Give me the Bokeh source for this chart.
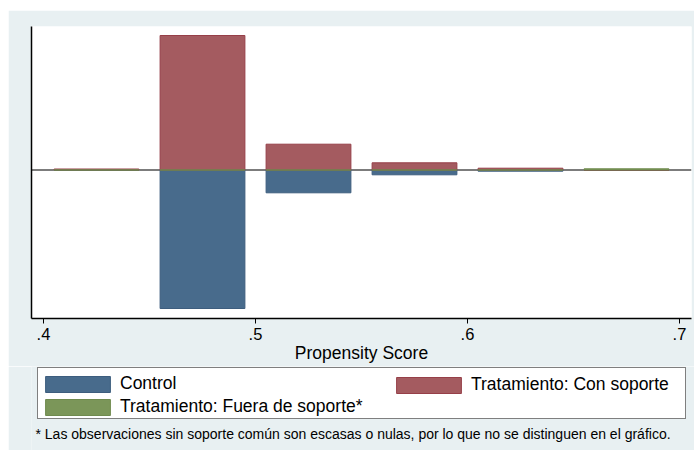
from bokeh.plotting import figure
from bokeh.layouts import column
from bokeh.models import (Range1d, FixedTicker, Span, Legend, LegendItem, Label,
                          ColumnDataSource)
from bokeh.core.properties import value
from bokeh.embed import file_html
from bokeh.resources import INLINE

# ---- data (arbitrary frequency units) ----
bin_centers = [0.425, 0.475, 0.525, 0.575, 0.625, 0.675]
tratados_soporte = [1.0, 134.5, 25.8, 7.2, 1.8, 0.0]
control = [0.0, 138.5, 22.8, 4.8, 1.2, 0.0]
tratados_fuera = [0.0, 0.0, 0.0, 0.0, 0.0, 1.2]
x_ticks = [0.4, 0.5, 0.6, 0.7]
x_tick_labels = [".4", ".5", ".6", ".7"]
series_labels = ["Control", "Tratamiento: Con soporte", "Tratamiento: Fuera de soporte*"]
footnote = "* Las observaciones sin soporte común son escasas o nulas, por lo que no se distinguen en el gráfico."
bar_width = 0.04

BG = "#e8f0f2"
BLUE = "#486b8c"
RED = "#a45b60"
GREEN = "#7b9659"
BLUE_L = "#3d5d7e"
RED_L = "#963f48"
GREEN_L = "#6f8a4e"
FONT = "Liberation Sans"
FS = "17.5px"

src = ColumnDataSource(dict(
    x=bin_centers,
    trat=tratados_soporte,
    ctrl_neg=[-v for v in control],
    fuera=tratados_fuera,
    zero=[0.0] * len(bin_centers),
))

p = figure(frame_width=660, frame_height=292,
           min_border_left=23, min_border_right=3, min_border_top=16, min_border_bottom=48,
           x_range=Range1d(0.39434, 0.70566), y_range=Range1d(-148.5, 143.5),
           output_backend="svg", toolbar_location=None)
p.margin = (10, 0, 0, 8)
p.background_fill_color = "white"
p.border_fill_color = BG
p.outline_line_color = None
p.grid.visible = False

zero_line = Span(location=0, dimension="width", line_color="#505050", line_width=1.5, level="underlay")
p.add_layout(zero_line)

p.vbar(x="x", width=bar_width, top="zero", bottom="ctrl_neg", source=src,
       fill_color=BLUE, line_color=BLUE_L, line_width=1)
p.vbar(x="x", width=bar_width, top="trat", bottom="zero", source=src,
       fill_color=RED, line_color=RED_L, line_width=1)
p.vbar(x="x", width=bar_width, top="fuera", bottom="zero", source=src,
       fill_color=GREEN, line_color=GREEN_L, line_width=1)

# x axis
xa = p.xaxis[0]
xa.ticker = FixedTicker(ticks=x_ticks)
xa.major_label_overrides = {t: l for t, l in zip(x_ticks, x_tick_labels)}
xa.minor_tick_line_color = None
xa.major_tick_in = 0
xa.major_tick_out = 5
xa.major_tick_line_color = "black"
xa.axis_line_color = "black"
xa.axis_line_width = 1.5
xa.major_label_text_font = FONT
xa.major_label_text_font_size = "16.5px"
xa.major_label_text_color = "black"
xa.major_label_standoff = 4
xa.axis_label = "Propensity Score"
xa.axis_label_text_font = FONT
xa.axis_label_text_font_size = FS
xa.axis_label_text_font_style = "normal"
xa.axis_label_text_color = "black"
xa.axis_label_standoff = 0

# y axis: bare line only
ya = p.yaxis[0]
ya.ticker = FixedTicker(ticks=[])
ya.major_tick_line_color = None
ya.minor_tick_line_color = None
ya.axis_line_color = "black"
ya.axis_line_width = 1.5

# ---- legend + footnote panel ----
QW, QH = 686, 84
q = figure(frame_width=QW, frame_height=QH, min_border=0,
           x_range=Range1d(0, QW), y_range=Range1d(0, QH),
           x_axis_type=None, y_axis_type=None,
           output_backend="svg", toolbar_location=None)
q.margin = (0, 0, 0, 8)
q.background_fill_color = BG
q.border_fill_color = BG
q.outline_line_color = None
q.grid.visible = False

# key renderers (one point far outside the visible range, only for legend swatches)
keysrc = ColumnDataSource(dict(x=[-1000.0], top=[0.0]))
k_box = q.vbar(x="x", top="top", width=1, source=keysrc, fill_alpha=0, line_alpha=0)
k_ctrl = q.vbar(x="x", top="top", width=1, source=keysrc, fill_color=BLUE, line_color=BLUE_L)
k_trat = q.vbar(x="x", top="top", width=1, source=keysrc, fill_color=RED, line_color=RED_L)
k_fuera = q.vbar(x="x", top="top", width=1, source=keysrc, fill_color=GREEN, line_color=GREEN_L)

# frame of the legend: an empty legend box of 647 x 50 px
frame_leg = Legend(items=[LegendItem(label=value(" "), renderers=[k_box])],
                   location=(29, 31), glyph_width=10, glyph_height=50, label_width=637,
                   label_height=50, label_standoff=0, padding=0, spacing=0, margin=0,
                   label_text_font_size="10px",
                   border_line_color="black", border_line_width=1,
                   background_fill_color="white", background_fill_alpha=1.0)
q.add_layout(frame_leg)

# legend swatches are inset by 10% on every side, so 81x20 gives a 65x16 patch
common = dict(glyph_width=81, glyph_height=20, label_standoff=2, padding=0, spacing=2,
              margin=0, label_text_font=FONT, label_text_font_size=FS,
              label_text_color="black", label_height=20,
              border_line_color=None, background_fill_alpha=0.0)

legA = Legend(items=[LegendItem(label=series_labels[0], renderers=[k_ctrl]),
                     LegendItem(label=series_labels[2], renderers=[k_fuera])],
              location=(29, 33), **common)
legB = Legend(items=[LegendItem(label=series_labels[1], renderers=[k_trat])],
              location=(380, 55), **common)
q.add_layout(legA)
q.add_layout(legB)

note = Label(x=4, y=17, text=footnote,
             text_font=FONT, text_font_size="14px", text_color="black", text_baseline="middle")
q.add_layout(note)

layout = column(p, q, spacing=0)
open("out.html", "w").write(file_html(layout, INLINE))
